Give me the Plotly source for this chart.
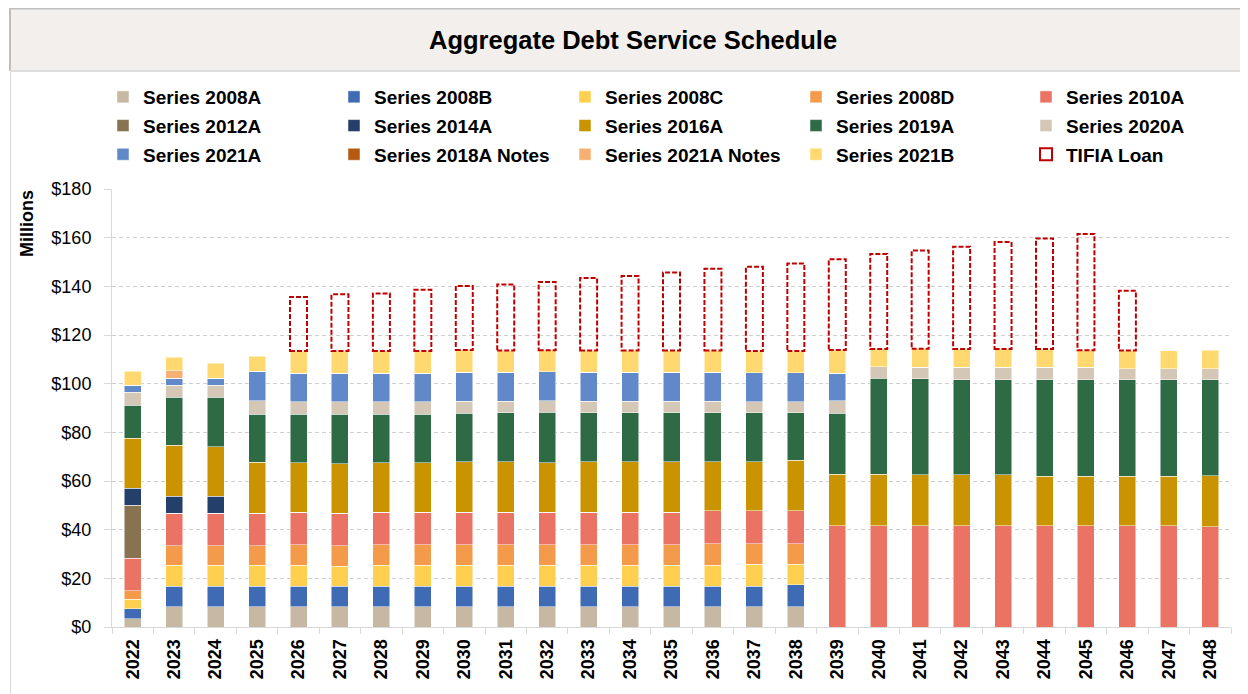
import plotly.graph_objects as go

# ---------------- data ----------------
years = [str(y) for y in range(2022, 2049)]

s2008A = [3.4, 8.4, 8.4, 8.4, 8.4, 8.4, 8.4, 8.4, 8.4, 8.4, 8.4, 8.4, 8.4, 8.4, 8.4, 8.4, 8.4,
          0, 0, 0, 0, 0, 0, 0, 0, 0, 0]
s2008B = [4.0, 8.4, 8.4, 8.4, 8.4, 8.4, 8.4, 8.4, 8.4, 8.4, 8.4, 8.4, 8.4, 8.4, 8.4, 8.4, 8.9,
          0, 0, 0, 0, 0, 0, 0, 0, 0, 0]
s2008C = [4.0, 8.5, 8.5, 8.5, 8.5, 8.1, 8.5, 8.5, 8.5, 8.5, 8.5, 8.5, 8.5, 8.5, 8.5, 9.0, 8.5,
          0, 0, 0, 0, 0, 0, 0, 0, 0, 0]
s2008D = [3.6, 8.1, 8.1, 8.1, 8.5, 8.5, 8.6, 8.6, 8.6, 8.6, 8.6, 8.6, 8.6, 8.6, 9.0, 8.5, 8.5,
          0, 0, 0, 0, 0, 0, 0, 0, 0, 0]
s2010A = [13.2, 13.3, 13.3, 13.3, 13.4, 13.3, 13.3, 13.3, 13.3, 13.3, 13.3, 13.3, 13.3, 13.3, 13.4, 13.4, 13.4,
          41.6, 41.6, 41.6, 41.6, 41.6, 41.6, 41.6, 41.6, 41.6, 41.1]
s2012A = [21.9] + [0] * 26
s2014A = [7.0, 7.0, 7.0] + [0] * 24
s2016A = [20.4, 21.0, 20.4, 21.0, 20.3, 20.4, 20.3, 20.3, 20.8, 20.8, 20.3, 20.8, 20.8, 20.8, 20.3, 20.3, 20.8,
          21.1, 21.1, 21.0, 21.0, 21.0, 20.4, 20.4, 20.4, 20.4, 21.0]
s2019A = [13.7, 19.7, 20.3, 19.7, 19.9, 20.3, 19.9, 19.9, 19.9, 20.1, 20.7, 20.1, 20.1, 20.1, 20.1, 20.1, 19.6,
          25.1, 39.5, 39.5, 39.0, 39.0, 39.6, 39.6, 39.6, 39.6, 39.6]
s2020A = [5.2, 4.9, 4.9, 5.5, 5.2, 5.2, 5.2, 5.2, 4.9, 4.7, 4.7, 4.7, 4.7, 4.7, 4.7, 4.5, 4.5,
          5.1, 4.7, 4.7, 5.1, 5.1, 5.1, 5.1, 4.5, 4.5, 4.5]
s2021A = [3.0, 2.9, 2.9, 12.3, 11.6, 11.6, 11.6, 11.6, 11.8, 11.9, 11.9, 11.9, 11.9, 11.9, 11.9, 11.9, 11.9,
          11.4, 0, 0, 0, 0, 0, 0, 0, 0, 0]
s2018A_notes = [0] * 27
s2021A_notes = [0, 3.2] + [0] * 25
s2021B = [5.8, 5.5, 6.2, 6.0, 9.2, 9.2, 9.2, 9.2, 9.2, 8.9, 8.9, 8.9, 8.9, 8.9, 8.9, 8.9, 8.9,
          9.5, 7.3, 7.5, 7.5, 7.5, 7.5, 7.0, 7.5, 7.5, 7.5]
tifia = [0, 0, 0, 0, 22.2, 23.3, 23.7, 25.2, 26.3, 27.2, 28.1, 29.8, 30.6, 32.1, 33.6, 34.6, 36.0,
         37.3, 39.1, 40.4, 42.1, 44.0, 45.5, 47.8, 24.6, 0, 0]

series = [
    ("Series 2008A", s2008A, "#c7b8a3"),
    ("Series 2008B", s2008B, "#3f6bb5"),
    ("Series 2008C", s2008C, "#ffcf50"),
    ("Series 2008D", s2008D, "#f39b4a"),
    ("Series 2010A", s2010A, "#ea7364"),
    ("Series 2012A", s2012A, "#877252"),
    ("Series 2014A", s2014A, "#233f6a"),
    ("Series 2016A", s2016A, "#c99400"),
    ("Series 2019A", s2019A, "#2e6b45"),
    ("Series 2020A", s2020A, "#d4c7b6"),
    ("Series 2021A", s2021A, "#6189c9"),
    ("Series 2018A Notes", s2018A_notes, "#b55a0f"),
    ("Series 2021A Notes", s2021A_notes, "#f7b074"),
    ("Series 2021B", s2021B, "#ffd970"),
]
tifia_name = "TIFIA Loan"

# ---------------- layout geometry (page pixels; page body has an 8px margin) ----------------
OFF = 8
WF, HF = 1240, 686
ML, MR, MT, MB = 104, 17, 181, 67
PW, PH = WF - ML - MR, HF - MT - MB
BARGAP = 0.59
FONT = "Liberation Sans, Arial, sans-serif"
LEG_COLS_PX = [103, 334, 565, 796, 1026]   # page x of legend columns
LEG_TOP_PX = 78


def fx(px):
    return (px - OFF - ML) / PW


def fy(py):
    return (HF - MB - (py - OFF)) / PH


fig = go.Figure()
for k, (name, vals, col) in enumerate(series):
    lg = "legend" if k % 5 == 0 else "legend%d" % (k % 5 + 1)
    fig.add_trace(go.Bar(
        x=years, y=vals, name=name, legend=lg, legendgroup=name,
        marker=dict(color=col, line=dict(color="rgba(255,255,255,0.7)", width=0.7)),
    ))

shapes = []
# chart frame + title band
shapes.append(dict(type="rect", xref="paper", yref="paper", layer="below",
                   x0=fx(10), x1=fx(1260), y0=fy(7), y1=fy(71),
                   fillcolor="#f2efec", line=dict(width=0)))
shapes.append(dict(type="line", xref="paper", yref="paper", layer="below",
                   x0=fx(10), x1=fx(1260), y0=fy(8.5), y1=fy(8.5),
                   line=dict(color="#bfbfbf", width=2)))
shapes.append(dict(type="line", xref="paper", yref="paper", layer="below",
                   x0=fx(10), x1=fx(10), y0=fy(8), y1=fy(71),
                   line=dict(color="#bfbfbf", width=2)))
shapes.append(dict(type="line", xref="paper", yref="paper", layer="below",
                   x0=fx(10), x1=fx(1260), y0=fy(71), y1=fy(71),
                   line=dict(color="#dedede", width=2)))
shapes.append(dict(type="line", xref="paper", yref="paper", layer="below",
                   x0=fx(10.5), x1=fx(10.5), y0=fy(71), y1=fy(700),
                   line=dict(color="#d9d9d9", width=1)))

# TIFIA loan dashed boxes stacked on top of the bond series
half = (1 - BARGAP) / 2
first = True
for i, t in enumerate(tifia):
    if t <= 0:
        continue
    base = sum(s[1][i] for s in series)
    shapes.append(dict(type="rect", xref="x", yref="y", layer="above",
                       x0=i - half, x1=i + half, y0=base, y1=base + t,
                       fillcolor="rgba(0,0,0,0)",
                       line=dict(color="#c00000", width=2, dash="5px,2px"),
                       legend="legend5", legendgroup="tifia", name=tifia_name,
                       showlegend=first))
    first = False

leg_font = dict(size=19, family=FONT, weight="bold", color="black")
legends = {}
for c, px in enumerate(LEG_COLS_PX):
    key = "legend" if c == 0 else "legend%d" % (c + 1)
    legends[key] = dict(orientation="v", xref="container", yref="container",
                        x=(px - OFF) / WF, y=1 - (LEG_TOP_PX - OFF) / HF,
                        xanchor="left", yanchor="top", font=leg_font,
                        traceorder="grouped", tracegroupgap=1,
                        bgcolor="rgba(0,0,0,0)", borderwidth=0)

fig.update_layout(
    width=WF, height=HF,
    margin=dict(l=ML, r=MR, t=MT, b=MB, autoexpand=False),
    paper_bgcolor="white", plot_bgcolor="white",
    barmode="stack", bargap=BARGAP,
    font=dict(family=FONT, color="black"),
    shapes=shapes,
    showlegend=True,
    xaxis=dict(type="category", range=[-0.5, len(years) - 0.5], automargin=False,
               tickangle=-90, ticks="outside", tickson="boundaries", ticklen=6,
               ticklabelstandoff=4,
               tickcolor="#d9d9d9", showline=True, linecolor="#d9d9d9", linewidth=1,
               tickfont=dict(size=18, family=FONT, weight="bold", color="black"),
               showgrid=False),
    yaxis=dict(range=[0, 180], dtick=20, tickprefix="$", ticks="outside", ticklen=7,
               ticklabelstandoff=9, automargin=False,
               tickcolor="#d9d9d9", showline=True, linecolor="#d9d9d9", linewidth=1,
               gridcolor="#cfcfcf", griddash="4px,3px", gridwidth=1, zeroline=False,
               tickfont=dict(size=18, family=FONT, color="black")),
    annotations=[
        dict(text="Aggregate Debt Service Schedule", xref="paper", yref="paper",
             x=fx(633), y=fy(40), xanchor="center", yanchor="middle", showarrow=False,
             font=dict(size=25.5, family=FONT, weight="bold", color="black")),
        dict(text="Millions", xref="paper", yref="paper", x=fx(27), y=fy(224),
             xanchor="center", yanchor="middle", textangle=-90, showarrow=False,
             font=dict(size=18, family=FONT, weight="bold", color="black")),
    ],
    **legends,
)

fig.write_html("out.html")
